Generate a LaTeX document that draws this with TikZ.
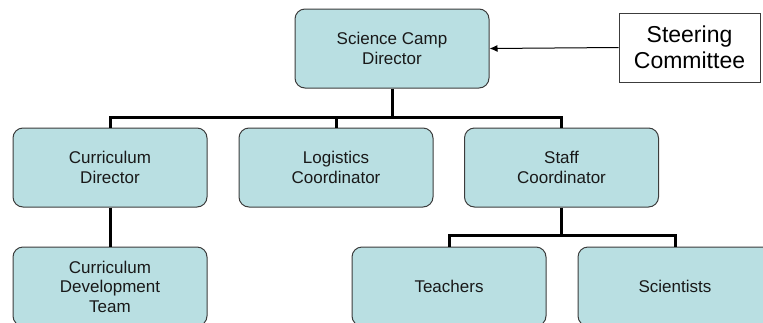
\documentclass[tikz,border=0pt]{standalone}
\usepackage{fontspec}
\setmainfont{Liberation Sans}
\usetikzlibrary{arrows.meta}

\definecolor{boxfill}{RGB}{185,223,226}
\definecolor{boxline}{RGB}{60,60,60}

\begin{document}
\begin{tikzpicture}[
    x=1pt, y=-1pt,
    >={Latex[length=8pt, width=7pt]},
    unit/.style={draw=boxline, line width=1pt, fill=boxfill, rounded corners=10pt,
        minimum width=194pt, minimum height=79pt, align=center, text=black!90,
        font=\fontsize{17}{19.5}\selectfont},
    link/.style={line width=3pt},
]
\useasboundingbox (0,0) rectangle (763,322);
\clip (0,0) rectangle (763,322);

% Top of the chart
\node[unit] (dir) at (392,48.5) {Science Camp\\Director};
\node[draw=boxline, line width=0.8pt, fill=white, minimum width=141pt, minimum height=69pt,
    align=center, font=\fontsize{23}{26.5}\selectfont] (steer) at (689.5,47.5)
    {Steering\\Committee};

% Second row
\node[unit] (curdir) at (110,167.5) {Curriculum\\Director};
\node[unit] (logi) at (336,167.5) {Logistics\\Coordinator};
\node[unit] (staff) at (561.5,167.5) {Staff\\Coordinator};

% Third row (runs off the bottom edge)
\node[unit] (team) at (110,286.5) {Curriculum\\Development\\Team};
\node[unit] (teach) at (449,286.5) {Teachers};
\node[unit] (sci) at (675,286.5) {Scientists};

% Bus lines
\coordinate (bus) at (392,117.5);
\coordinate (staffbus) at (561.5,235);

\draw[link] (dir.south) -- (bus);
\draw[link] (curdir.north) |- (bus) -| (staff.north);
\draw[link] (bus -| logi.north) -- (logi.north);
\draw[link] (curdir.south) -- (team.north);
\draw[link] (staff.south) -- (staffbus);
\draw[link] (teach.north) |- (staffbus) -| (sci.north);

% Committee feeds into the director
\draw[->, line width=1pt] (steer.west) -- (dir.east);

\end{tikzpicture}
\end{document}
